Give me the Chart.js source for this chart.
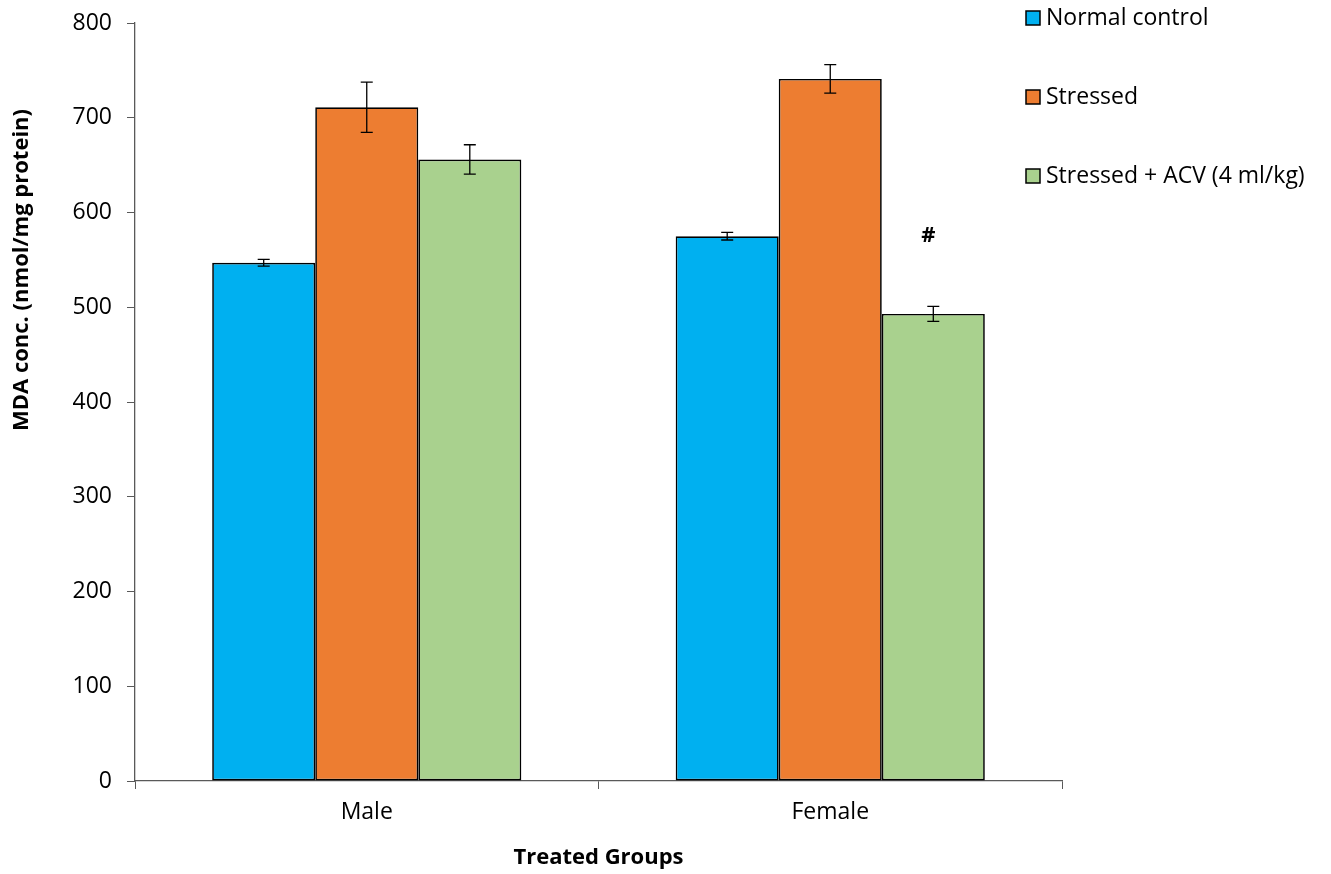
<!DOCTYPE html>
<html lang="en">
<head>
    <meta charset="UTF-8">
    <title>MDA concentration</title>
    <style>
        body {
            margin: 0;
            padding: 0;
            background-color: #ffffff;
        }
        #wrap {
            width: 1331px;
            height: 874px;
        }
    </style>
    <script src="https://cdn.jsdelivr.net/npm/chart.js"></script>
</head>
<body>
    <div id="wrap"><canvas id="mdaChart"></canvas></div>

    <script>
        // Data
        const groups = ['Male', 'Female'];
        const seriesNames = ['Normal control', 'Stressed', 'Stressed + ACV (4 ml/kg)'];
        const normalControl = [547, 575];
        const stressed = [711, 741];
        const stressedAcv = [656, 493];
        const normalErr = [3.5, 4];
        const stressedErr = [26.5, 15];
        const acvErr = [15.5, 8];
        const yTicks = [0, 100, 200, 300, 400, 500, 600, 700, 800];
        // significance marks: [series index, group index, text, y value]
        const marks = [[2, 1, '#', 576]];

        const colors = ['#00b0f0', '#ed7d31', '#a9d18e'];
        const FONT = "'Open Sans', sans-serif";

        const errorBars = {
            id: 'errorBars',
            afterDatasetsDraw(chart) {
                const ctx = chart.ctx;
                const y = chart.scales.y;
                ctx.save();
                ctx.strokeStyle = '#000000';
                ctx.lineWidth = 1.3;
                chart.data.datasets.forEach((ds, i) => {
                    const meta = chart.getDatasetMeta(i);
                    meta.data.forEach((bar, j) => {
                        const v = ds.data[j];
                        const e = ds.errors[j];
                        const top = y.getPixelForValue(v + e);
                        const bot = y.getPixelForValue(v - e);
                        const cap = 6;
                        ctx.beginPath();
                        ctx.moveTo(bar.x, top);
                        ctx.lineTo(bar.x, bot);
                        ctx.moveTo(bar.x - cap, top);
                        ctx.lineTo(bar.x + cap, top);
                        ctx.moveTo(bar.x - cap, bot);
                        ctx.lineTo(bar.x + cap, bot);
                        ctx.stroke();
                    });
                });
                // significance marks
                ctx.fillStyle = '#000000';
                ctx.font = 'bold 22px ' + FONT;
                ctx.textAlign = 'center';
                ctx.textBaseline = 'middle';
                marks.forEach(m => {
                    const bar = chart.getDatasetMeta(m[0]).data[m[1]];
                    ctx.fillText(m[2], bar.x - 5, y.getPixelForValue(m[3]));
                });
                ctx.restore();
            }
        };

        const sideText = {
            id: 'sideText',
            afterDraw(chart) {
                const ctx = chart.ctx;
                ctx.save();
                // y axis title, placed where the original sits
                ctx.translate(22, 270);
                ctx.rotate(-Math.PI / 2);
                ctx.fillStyle = '#000000';
                ctx.font = 'bold 22px ' + FONT;
                ctx.textAlign = 'center';
                ctx.textBaseline = 'middle';
                ctx.fillText('MDA conc. (nmol/mg protein)', 0, 0);
                ctx.restore();

                // legend
                ctx.save();
                ctx.font = '23px ' + FONT;
                ctx.textBaseline = 'middle';
                chart.data.datasets.forEach((ds, i) => {
                    const cy = 18 + i * 79;
                    ctx.fillStyle = ds.backgroundColor;
                    ctx.fillRect(1026, cy - 7, 14, 14);
                    ctx.strokeStyle = '#000000';
                    ctx.lineWidth = 1.5;
                    ctx.strokeRect(1026, cy - 7, 14, 14);
                    ctx.fillStyle = '#000000';
                    ctx.fillText(ds.label, 1046, cy);
                });
                ctx.restore();
            }
        };

        const errs = [normalErr, stressedErr, acvErr];
        const vals = [normalControl, stressed, stressedAcv];

        new Chart(document.getElementById('mdaChart'), {
            type: 'bar',
            data: {
                labels: groups,
                datasets: seriesNames.map((name, i) => ({
                    label: name,
                    data: vals[i],
                    errors: errs[i],
                    backgroundColor: colors[i],
                    borderColor: '#000000',
                    borderWidth: 1.7,
                    borderSkipped: false,
                    categoryPercentage: 0.667,
                    barPercentage: 1.0
                }))
            },
            options: {
                responsive: true,
                maintainAspectRatio: false,
                animation: false,
                layout: {
                    padding: { left: 0, right: 269, top: 23, bottom: 0 }
                },
                plugins: {
                    legend: { display: false },
                    tooltip: { enabled: false }
                },
                scales: {
                    x: {
                        afterFit(scale) { scale.height = 93; },
                        grid: {
                            display: true,
                            offset: true,
                            drawOnChartArea: false,
                            color: '#595959',
                            tickLength: 8
                        },
                        border: { color: '#595959', width: 1.3 },
                        ticks: {
                            color: '#000000',
                            padding: 10,
                            font: { family: FONT, size: 23 }
                        },
                        title: {
                            display: true,
                            text: 'Treated Groups',
                            color: '#000000',
                            font: { family: FONT, size: 22, weight: 'bold' },
                            padding: { top: 0, bottom: 3 }
                        }
                    },
                    y: {
                        min: 0,
                        max: 800,
                        afterFit(scale) {
                            scale.width = 135;
                            scale.paddingTop = 0;
                            scale.paddingBottom = 0;
                        },
                        afterBuildTicks(scale) {
                            scale.ticks = yTicks.map(v => ({ value: v }));
                        },
                        grid: {
                            display: true,
                            drawOnChartArea: false,
                            color: '#595959',
                            tickLength: 8
                        },
                        border: { color: '#595959', width: 1.3 },
                        ticks: {
                            color: '#000000',
                            padding: 15,
                            font: { family: FONT, size: 23 }
                        }
                    }
                }
            },
            plugins: [errorBars, sideText]
        });
    </script>
</body>
</html>
